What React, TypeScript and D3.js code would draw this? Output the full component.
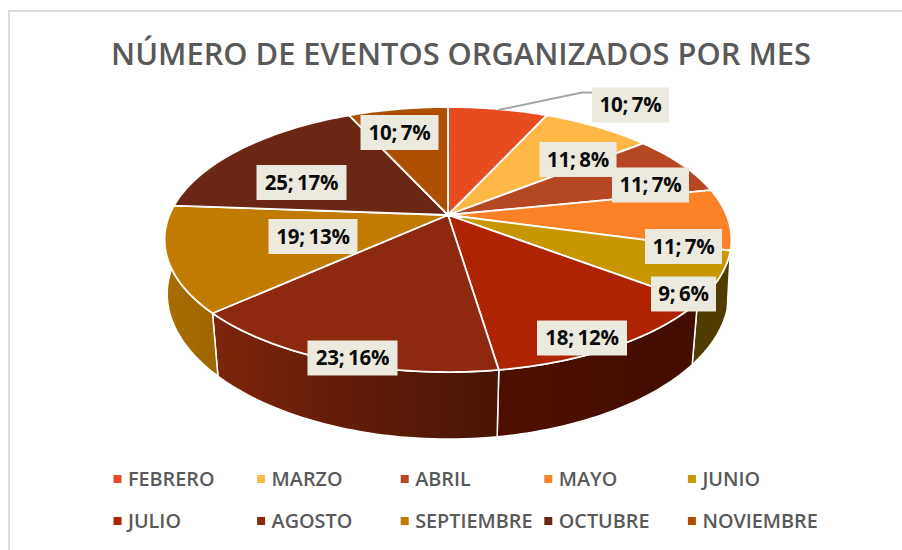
import React from "react";
import * as d3 from "d3";

const months = ["FEBRERO","MARZO","ABRIL","MAYO","JUNIO","JULIO","AGOSTO","SEPTIEMBRE","OCTUBRE","NOVIEMBRE"];
const values = [10,11,11,11,9,18,23,19,25,10];
const percents = [7,8,7,7,6,12,16,13,17,7];
const topColors = ["#E74C21","#FDB848","#B54823","#FD8227","#C79600","#AE2300","#8E280E","#C07B00","#6B2713","#AE4F00"];
const wallLeft = ["#7a2a10","#8a6020","#6a2810","#8a4510","#4F3D00","#4E0F00","#7C250A","#A86E00","#5a2010","#7a3800"];
const wallRight = ["#7a2a10","#8a6020","#6a2810","#8a4510","#4F3D00","#430D00","#481405","#A06600","#5a2010","#7a3800"];
const labelCenters: [number, number][] = [[630.5,105],[578,159.5],[650.5,185],[683.5,246.5],[683.5,294],[582,338],[352.5,358],[313,236.5],[301.5,182.5],[399.5,132.5]];
const labelWidths = [77,77,77,77,65,90,90,89,90,78];

const W = 902, H = 550;
const apex = { x: 448, y: 215 };
const P = -0.185, A = 278.5, B = 128;
const project = (t: number, r = 1) => {
  const u = r * Math.sin(t), v = -r * Math.cos(t);
  const w = 1 + P * v;
  return { x: A * u / w, y: B * v / w };
};
const topPt = (t: number): [number, number] => { const p = project(t); return [apex.x + p.x, apex.y + p.y]; };
const botPt = (t: number): [number, number] => {
  const p = project(t);
  return [apex.x + p.x * (0.995 - 0.00018 * p.y), apex.y + p.y * 1.07 + 56];
};
const line = d3.line<[number, number]>();
const samples = (a: number, b: number) => d3.range(0, 41).map(i => a + (b - a) * i / 40);

export default function App() {
  const arcs = d3.pie<number>().sort(null).startAngle(0).endAngle(2 * Math.PI)(values);
  return (
    <svg width={W} height={H} style={{ position: "absolute", left: 0, top: 0, display: "block" }} fontFamily="'Open Sans', sans-serif">
      <defs>
        {arcs.map((a, i) => {
          const xs = samples(a.startAngle, a.endAngle).map(t => topPt(t)[0]);
          return (
            <linearGradient key={i} id={`w${i}`} gradientUnits="userSpaceOnUse" x1={d3.min(xs)} x2={d3.max(xs)} y1={0} y2={0}>
              <stop offset="0" stopColor={wallLeft[i]} />
              <stop offset="1" stopColor={wallRight[i]} />
            </linearGradient>
          );
        })}
      </defs>
      <rect width={W} height={H} fill="#fff" />
      <path d="M9,550V11H902" fill="none" stroke="#dcdcdc" strokeWidth={2} />
      <text x={461} y={65} textAnchor="middle" fontSize={30.8} fontWeight={600} fill="#595959">NÚMERO DE EVENTOS ORGANIZADOS POR MES</text>

      {arcs.map((a, i) => {
        const ts = samples(a.startAngle, a.endAngle);
        const pts = [...ts.map(topPt), ...ts.slice().reverse().map(botPt)];
        return <path key={i} d={line(pts) + "Z"} fill={`url(#w${i})`} stroke="#fff" strokeWidth={1.5} strokeLinejoin="round" />;
      })}
      {arcs.map((a, i) => {
        const pts: [number, number][] = [[apex.x, apex.y], ...samples(a.startAngle, a.endAngle).map(topPt)];
        return <path key={i} d={line(pts) + "Z"} fill={topColors[i]} stroke="#fff" strokeWidth={1.8} strokeLinejoin="round" />;
      })}

      <path d="M498,110L582,92.5H592" fill="none" stroke="#A6A6A6" strokeWidth={2} />

      {values.map((v, i) => {
        const [cx, cy] = labelCenters[i];
        const w = labelWidths[i];
        return (
          <g key={i}>
            <rect x={cx - w / 2} y={cy - 17.5} width={w} height={35} fill="#ECEADF" />
            <text x={cx} y={cy + 7} textAnchor="middle" fontSize={20.5} fontWeight={700} letterSpacing={-0.2} wordSpacing={-1.5} fill="#0b0b0b">{`${v}; ${percents[i]}%`}</text>
          </g>
        );
      })}

      {months.map((m, i) => {
        const col = i % 5, row = Math.floor(i / 5);
        const x = 113.5 + col * 143.6, y = 479 + row * 42;
        return (
          <g key={m}>
            <rect x={x} y={y - 4} width={8} height={8} fill={topColors[i]} />
            <text x={x + 14.5} y={y + 7} fontSize={19.8} fontWeight={600} fill="#595959">{m}</text>
          </g>
        );
      })}
    </svg>
  );
}
